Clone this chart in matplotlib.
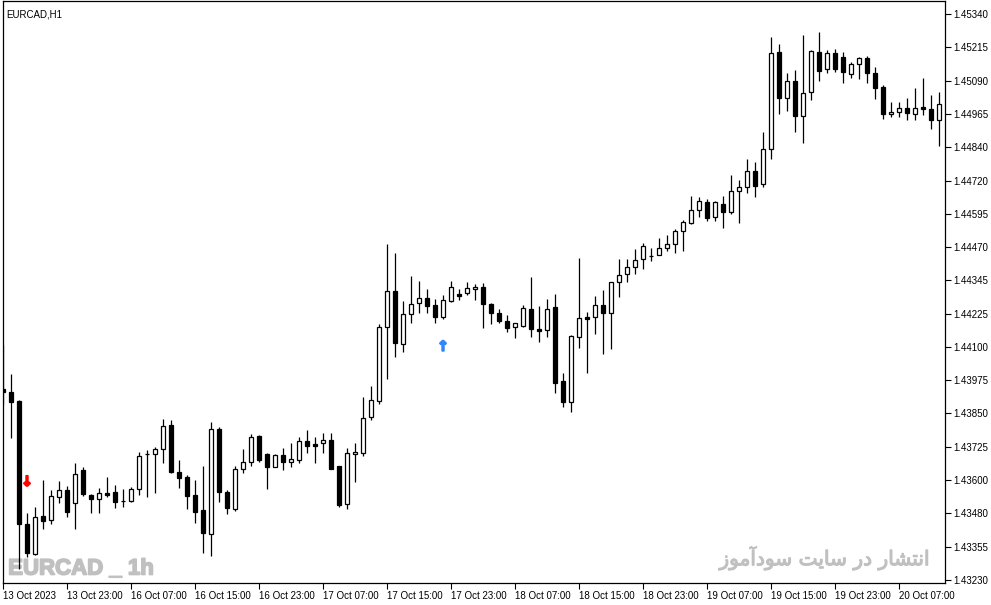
import matplotlib
matplotlib.use("Agg")
import matplotlib.pyplot as plt
import matplotlib.patheffects as pe
import numpy as np

# EURCAD H1 candles, 13 Oct 15:00 -> 20 Oct 12:00
opens = [1.43942, 1.43931, 1.43897, 1.43439, 1.43327, 1.43468, 1.43453, 1.43539, 1.43565, 1.43517,
         1.43640, 1.43547, 1.43532, 1.43554, 1.43558, 1.43524, 1.43524, 1.43569, 1.43700, 1.43700,
         1.43718, 1.43808, 1.43632, 1.43614, 1.43547, 1.43491, 1.43401, 1.43793, 1.43558, 1.43494,
         1.43644, 1.43670, 1.43767, 1.43700, 1.43651, 1.43696, 1.43670, 1.43677, 1.43748, 1.43737,
         1.43741, 1.43752, 1.43655, 1.43513, 1.43700, 1.43703, 1.43838, 1.43897, 1.44173, 1.44308,
         1.44110, 1.44222, 1.44263, 1.44282, 1.44255, 1.44211, 1.44270, 1.44296, 1.44300, 1.44315,
         1.44323, 1.44259, 1.44225, 1.44196, 1.44173, 1.44177, 1.44240, 1.44166, 1.44162, 1.44248,
         1.43972, 1.43894, 1.44136, 1.44211, 1.44211, 1.44255, 1.44225, 1.44341, 1.44371, 1.44397,
         1.44427, 1.44438, 1.44442, 1.44468, 1.44483, 1.44531, 1.44561, 1.44610, 1.44640, 1.44584,
         1.44632, 1.44602, 1.44681, 1.44696, 1.44755, 1.44707, 1.44837, 1.45199, 1.45028, 1.45091,
         1.44960, 1.45050, 1.45199, 1.45136, 1.45195, 1.45180, 1.45117, 1.45154, 1.45177, 1.45121,
         1.45069, 1.44968, 1.44975, 1.44990, 1.44968, 1.44994, 1.44986, 1.44945]
highs = [1.44106, 1.43998, 1.43901, 1.43480, 1.43502, 1.43603, 1.43565, 1.43599, 1.43580, 1.43666,
         1.43651, 1.43550, 1.43573, 1.43614, 1.43584, 1.43569, 1.43577, 1.43707, 1.43715, 1.43726,
         1.43830, 1.43826, 1.43677, 1.43621, 1.43603, 1.43655, 1.43819, 1.43800, 1.43565, 1.43655,
         1.43718, 1.43774, 1.43770, 1.43703, 1.43700, 1.43722, 1.43741, 1.43763, 1.43789, 1.43763,
         1.43778, 1.43778, 1.43655, 1.43722, 1.43741, 1.43912, 1.43953, 1.44184, 1.44483, 1.44449,
         1.44270, 1.44364, 1.44345, 1.44315, 1.44278, 1.44293, 1.44345, 1.44315, 1.44341, 1.44334,
         1.44337, 1.44263, 1.44240, 1.44218, 1.44188, 1.44255, 1.44360, 1.44252, 1.44278, 1.44296,
         1.44002, 1.44143, 1.44431, 1.44229, 1.44289, 1.44311, 1.44341, 1.44427, 1.44427, 1.44464,
         1.44487, 1.44468, 1.44505, 1.44516, 1.44539, 1.44572, 1.44662, 1.44658, 1.44651, 1.44643,
         1.44662, 1.44740, 1.44722, 1.44800, 1.44789, 1.44901, 1.45255, 1.45229, 1.45121, 1.45132,
         1.45262, 1.45207, 1.45274, 1.45207, 1.45210, 1.45199, 1.45162, 1.45180, 1.45184, 1.45143,
         1.45076, 1.45013, 1.45013, 1.45028, 1.45065, 1.45102, 1.45039, 1.45050]
lows = [1.43882, 1.43759, 1.43271, 1.43315, 1.43323, 1.43420, 1.43439, 1.43517, 1.43465, 1.43420,
        1.43543, 1.43480, 1.43480, 1.43539, 1.43498, 1.43502, 1.43521, 1.43547, 1.43539, 1.43554,
        1.43666, 1.43629, 1.43573, 1.43494, 1.43442, 1.43330, 1.43319, 1.43521, 1.43476, 1.43487,
        1.43629, 1.43655, 1.43670, 1.43569, 1.43651, 1.43640, 1.43651, 1.43666, 1.43703, 1.43666,
        1.43703, 1.43644, 1.43502, 1.43494, 1.43595, 1.43692, 1.43826, 1.43886, 1.43979, 1.44061,
        1.44080, 1.44188, 1.44225, 1.44225, 1.44188, 1.44203, 1.44267, 1.44274, 1.44293, 1.44274,
        1.44170, 1.44184, 1.44188, 1.44155, 1.44132, 1.44173, 1.44136, 1.44117, 1.44136, 1.43927,
        1.43875, 1.43856, 1.44095, 1.44002, 1.44147, 1.44073, 1.44091, 1.44285, 1.44341, 1.44371,
        1.44390, 1.44420, 1.44442, 1.44457, 1.44449, 1.44457, 1.44558, 1.44584, 1.44569, 1.44569,
        1.44543, 1.44595, 1.44561, 1.44673, 1.44658, 1.44696, 1.44800, 1.44968, 1.44979, 1.44901,
        1.44860, 1.45020, 1.45091, 1.45121, 1.45124, 1.45083, 1.45102, 1.45098, 1.45083, 1.45025,
        1.44949, 1.44957, 1.44957, 1.44945, 1.44945, 1.44964, 1.44912, 1.44848]
closes = [1.43931, 1.43894, 1.43439, 1.43330, 1.43465, 1.43450, 1.43543, 1.43565, 1.43483, 1.43625,
          1.43550, 1.43532, 1.43554, 1.43547, 1.43521, 1.43524, 1.43569, 1.43692, 1.43700, 1.43718,
          1.43804, 1.43632, 1.43610, 1.43543, 1.43483, 1.43405, 1.43793, 1.43558, 1.43498, 1.43644,
          1.43670, 1.43763, 1.43677, 1.43651, 1.43696, 1.43670, 1.43681, 1.43748, 1.43729, 1.43729,
          1.43752, 1.43644, 1.43509, 1.43703, 1.43707, 1.43834, 1.43901, 1.44173, 1.44308, 1.44114,
          1.44222, 1.44259, 1.44282, 1.44252, 1.44211, 1.44274, 1.44323, 1.44289, 1.44319, 1.44323,
          1.44259, 1.44225, 1.44196, 1.44170, 1.44188, 1.44244, 1.44166, 1.44158, 1.44240, 1.43964,
          1.43894, 1.44140, 1.44207, 1.44203, 1.44255, 1.44225, 1.44341, 1.44367, 1.44397, 1.44423,
          1.44475, 1.44438, 1.44468, 1.44483, 1.44531, 1.44565, 1.44610, 1.44643, 1.44580, 1.44640,
          1.44602, 1.44681, 1.44696, 1.44755, 1.44699, 1.44837, 1.45195, 1.45028, 1.45091, 1.44960,
          1.45046, 1.45203, 1.45128, 1.45195, 1.45136, 1.45124, 1.45154, 1.45177, 1.45121, 1.45065,
          1.44968, 1.44975, 1.44990, 1.44972, 1.44990, 1.44986, 1.44945, 1.45005]

price_ticks = ["1.43230", "1.43355", "1.43480", "1.43600", "1.43725", "1.43850", "1.43975", "1.44100",
               "1.44225", "1.44345", "1.44470", "1.44595", "1.44720", "1.44840", "1.44965", "1.45090",
               "1.45215", "1.45340"]
time_labels = ["13 Oct 2023", "13 Oct 23:00", "16 Oct 07:00", "16 Oct 15:00", "16 Oct 23:00",
               "17 Oct 07:00", "17 Oct 15:00", "17 Oct 23:00", "18 Oct 07:00", "18 Oct 15:00",
               "18 Oct 23:00", "19 Oct 07:00", "19 Oct 15:00", "19 Oct 23:00", "20 Oct 07:00"]

# signal arrows (bar index, price)
sell_idx, sell_price = [3], [1.43595]
buy_idx, buy_price = [55], [1.44099]

o = np.array(opens)
h = np.array(highs)
l = np.array(lows)
c = np.array(closes)
x = np.arange(len(o))

fig = plt.figure(figsize=(9.91, 6.05), dpi=100)
ax = fig.add_axes([2.5 / 991, 22 / 605, 942.5 / 991, 582 / 605])

ax.vlines(x, l, h, color="black", linewidth=0.9, zorder=2)
up = c >= o
body_low = np.minimum(o, c)
body_h = np.abs(c - o)
ax.bar(x[up], body_h[up], bottom=body_low[up], width=0.55, color="white",
       edgecolor="black", linewidth=0.9, zorder=3)
ax.bar(x[~up], body_h[~up], bottom=body_low[~up], width=0.55, color="black",
       edgecolor="black", linewidth=0.9, zorder=3)

for i, p in zip(sell_idx, sell_price):
    ax.text(i, p, "\u2193", color="#ff0000", fontsize=10, fontweight="bold",
            ha="center", va="center", zorder=4,
            path_effects=[pe.withStroke(linewidth=1.3, foreground="#ff0000")])
for i, p in zip(buy_idx, buy_price):
    ax.text(i, p, "\u2191", color="#2f86ff", fontsize=10, fontweight="bold",
            ha="center", va="center", zorder=4,
            path_effects=[pe.withStroke(linewidth=1.3, foreground="#2f86ff")])

ax.set_xlim(-0.0625, 117.75)
ax.set_ylim(1.43218, 1.45389)

ax.yaxis.tick_right()
ax.set_yticks(np.linspace(1.43230, 1.45340, len(price_ticks)))
ax.set_yticklabels(price_ticks)
ax.set_xticks(np.arange(0, 8 * len(time_labels), 8))
ax.set_xticklabels(time_labels, ha="left")
ax.tick_params(axis="both", direction="out", length=4, width=0.8, labelsize=7,
               colors="black", pad=2)
for t in ax.get_xticklabels() + ax.get_yticklabels():
    t.set_fontfamily("Liberation Sans")
for s in ax.spines.values():
    s.set_linewidth(0.9)

ax.text(0.004, 0.985, "EURCAD,H1", transform=ax.transAxes, fontsize=7,
        family="Liberation Sans", va="top", ha="left")

ax.text(0.006, 0.006, "EURCAD _ 1h", transform=ax.transAxes, fontsize=16,
        fontweight="heavy", color="#c0c0c0", family="Liberation Sans",
        va="bottom", ha="left", zorder=1,
        path_effects=[pe.withStroke(linewidth=1.2, foreground="#c0c0c0")])
fa_text = ("\ufeaf\ufeee\ufee3\ufe81\ufea9\ufeee\ufeb3 \ufe96\ufef3\ufe8e\ufeb3 "
           "\ufead\ufea9 \ufead\ufe8e\ufeb8\ufe98\ufee7\ufe8d")
ax.text(0.984, 0.022, fa_text, transform=ax.transAxes, fontsize=14.5,
        color="#c0c0c0", family="DejaVu Sans", va="bottom", ha="right", zorder=1,
        path_effects=[pe.withStroke(linewidth=0.8, foreground="#c0c0c0")])

fig.savefig("out.png", dpi=100)
